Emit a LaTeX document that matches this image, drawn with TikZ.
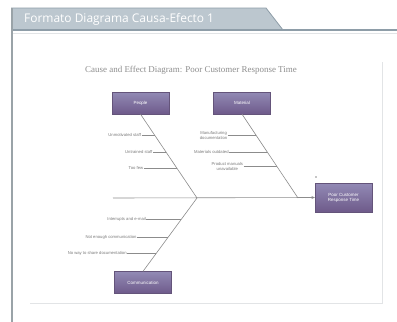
\documentclass[tikz,border=0pt]{standalone}
\usepackage{fontspec}
\setmainfont{Liberation Serif}
\newfontfamily\tabfont{Open Sans}
\newfontfamily\smallsans{Liberation Sans}
\usetikzlibrary{arrows.meta,calc}

\definecolor{tabfill}{HTML}{BCC7CF}
\definecolor{tabedge}{HTML}{8E9DA8}
\definecolor{framegrey}{HTML}{9AA3A8}
\definecolor{panelgrey}{HTML}{E2E4E6}
\definecolor{boxtop}{HTML}{928AB5}
\definecolor{boxbot}{HTML}{6E5A8A}
\definecolor{boxedge}{HTML}{64547A}
\definecolor{bonegrey}{HTML}{8C8C8C}
\definecolor{labelgrey}{HTML}{7A7A7A}

\tikzset{
  causebox/.style={top color=boxtop, bottom color=boxbot, draw=boxedge, line width=0.4pt,
    minimum width=57, minimum height=22, inner sep=0pt, text=white,
    font=\smallsans\fontsize{4.5}{5}\selectfont},
  effectbox/.style={causebox, minimum height=29, align=center},
  bone/.style={draw=bonegrey, line width=0.6pt},
  rib/.style={draw=bonegrey, line width=0.45pt},
  riblabel/.style={anchor=east, inner sep=0.5pt, text=labelgrey, align=center,
    font=\smallsans\fontsize{4.2}{4.8}\selectfont}
}

\begin{document}
\begin{tikzpicture}[x=1bp,y=-1bp]
\useasboundingbox (0,0) rectangle (397,322);
\fill[white] (0,0) rectangle (397,322);

% tab with the sheet title
\fill[tabfill] (11,8) -- (266,8) -- (283,30) -- (11,30) -- cycle;
\draw[tabedge, line width=0.8pt] (11,8) -- (266,8) -- (283,30);
\draw[tabedge, line width=1.6pt] (11,30) -- (397,30);
\draw[panelgrey, line width=0.8pt] (12,33) -- (397,33);
\node[anchor=west, text=white, inner sep=0pt, font=\tabfont\fontsize{12}{14}\selectfont] (tabtitle) at (24,19) {Formato Diagrama Causa-Efecto 1};

% sheet border and inner panel
\draw[framegrey, line width=1.6pt] (12,8) -- (12,322);
\draw[panelgrey, line width=0.6pt] (382,62) -- (382,303) -- (30,303);

% diagram heading
\node[text=labelgrey!85, inner sep=0pt, font=\fontsize{9}{10}\selectfont] (heading) at (191,70)
  {Cause and Effect Diagram: Poor Customer Response Time};

% category boxes and effect box
\node[causebox] (people) at (140.5,103) {People};
\node[causebox] (material) at (242,103) {Material};
\node[causebox] (comm) at (143,282.5) {Communication};
\node[effectbox] (effect) at (343.5,197.5) {Poor Customer\\Response Time};

% spine and main bones
\coordinate (tail) at (113,198);
\coordinate (j1) at (197,198);
\coordinate (j2) at (298,198);
\draw[bone, -{Stealth[length=3.5pt,width=3pt]}] (tail) -- (effect.west);
\draw[bone] (people.south) -- (j1);
\draw[bone] (material.south) -- (j2);
\draw[bone] (j1) -- (comm.north);

% people causes
\coordinate (p1) at ($(people.south)!0.25!(j1)$);
\coordinate (p2) at ($(people.south)!0.452!(j1)$);
\coordinate (p3) at ($(people.south)!0.643!(j1)$);
\node[riblabel] (p1l) at ($(p1)+(-13,0)$) {Unmotivated staff};
\node[riblabel] (p2l) at ($(p2)+(-13,0)$) {Untrained staff};
\node[riblabel] (p3l) at ($(p3)+(-33,0)$) {Too few};
\draw[rib] (p1l.east) -- (p1);
\draw[rib] (p2l.east) -- (p2);
\draw[rib] (p3l.east) -- (p3);

% material causes
\coordinate (m1) at ($(material.south)!0.25!(j2)$);
\coordinate (m2) at ($(material.south)!0.452!(j2)$);
\coordinate (m3) at ($(material.south)!0.62!(j2)$);
\node[riblabel] (m1l) at ($(m1)+(-28,0)$) {Manufacturing\\documentation};
\node[riblabel] (m2l) at ($(m2)+(-38,0)$) {Materials outdated};
\node[riblabel] (m3l) at ($(m3)+(-33,0)$) {Product manuals\\unavailable};
\draw[rib] (m1l.east) -- (m1);
\draw[rib] (m2l.east) -- (m2);
\draw[rib] (m3l.east) -- (m3);

% communication causes
\coordinate (c1) at ($(j1)!0.288!(comm.north)$);
\coordinate (c2) at ($(j1)!0.534!(comm.north)$);
\coordinate (c3) at ($(j1)!0.753!(comm.north)$);
\node[riblabel] (c1l) at ($(c1)+(-35,0)$) {Interrupts and e-mail};
\node[riblabel] (c2l) at ($(c2)+(-31,0)$) {Not enough communication};
\node[riblabel] (c3l) at ($(c3)+(-29,0)$) {No way to share documentation};
\draw[rib] (c1l.east) -- (c1);
\draw[rib] (c2l.east) -- (c2);
\draw[rib] (c3l.east) -- (c3);

% small mark above the effect box
\fill[bonegrey] (316,177) circle (0.8);
\end{tikzpicture}
\end{document}
